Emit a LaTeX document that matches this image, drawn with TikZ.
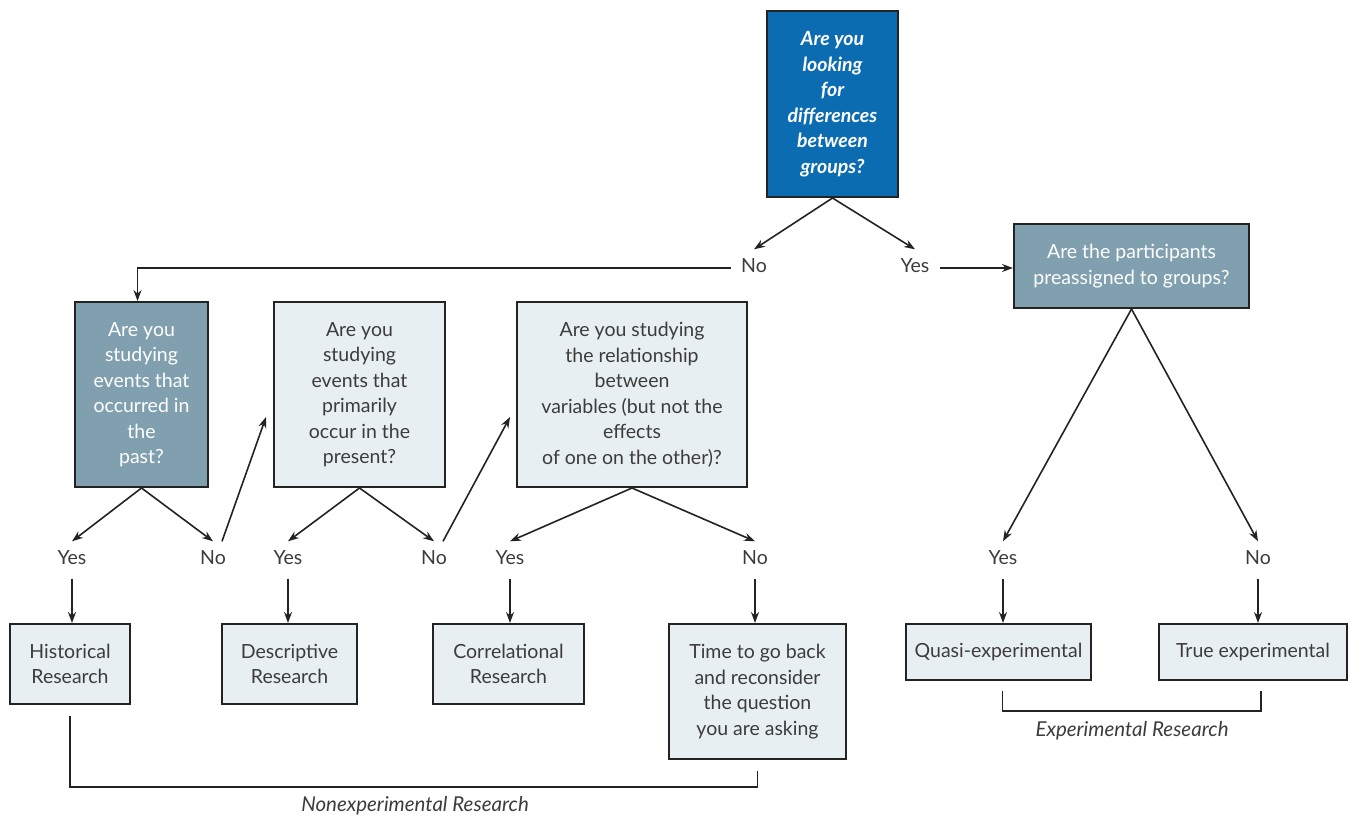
\documentclass[tikz,border=0pt]{standalone}
\usepackage{fontspec}
\setmainfont{Lato}
\definecolor{myblue}{RGB}{12, 108, 178}
\definecolor{mygray}{RGB}{128, 160, 176}
\definecolor{mylight}{RGB}{232, 239, 242}
\definecolor{mytext}{RGB}{60, 60, 60}
\definecolor{myline}{RGB}{35, 35, 35}
\usetikzlibrary{arrows.meta, positioning}

\tikzset{
	box/.style = {draw = myline, line width = 2pt, align = center, inner sep = 0pt, font = \fontsize{19.5}{25.5}\selectfont},
	darkbox/.style = {box, fill = mygray, text = white},
	lightbox/.style = {box, fill = mylight, text = mytext},
	answer/.style = {text = mytext, inner sep = 10pt, text height = 13pt, text depth = 4pt, font = \fontsize{19.5}{22}\selectfont},
	arrow/.style = {-{Stealth[length = 11pt, width = 8pt]}, line width = 1.6pt, color = myline},
	bracket/.style = {line width = 1.6pt, draw = myline},
	group/.style = {text = mytext, font = \fontsize{20.5}{24}\selectfont\itshape}
}

\begin{document}
\begin{tikzpicture}[x = 1pt, y = -1pt]
	\useasboundingbox (0, 0) rectangle (1359, 819);

	% questions
	\node[box, fill = myblue, text = white, font = \fontsize{19.5}{25.5}\selectfont\bfseries\itshape, minimum width = 131pt, minimum height = 186pt] (q0) at (832.5, 104) {Are you\\looking\\for\\differences\\between\\groups?};
	\node[darkbox, minimum width = 235pt, minimum height = 84pt] (q2) at (1131.5, 266) {Are the participants\\preassigned to groups?};
	\node[darkbox, minimum width = 133pt, minimum height = 185pt] (q1) at (141.5, 394.5) {Are you\\studying\\events that\\occurred in\\the\\past?};
	\node[lightbox, minimum width = 171pt, minimum height = 185pt] (q3) at (359.5, 394.5) {Are you\\studying\\events that\\primarily\\occur in the\\present?};
	\node[lightbox, minimum width = 230pt, minimum height = 185pt] (q4) at (632, 394.5) {Are you studying\\the relationship\\between\\variables (but not the\\effects\\of one on the other)?};

	% outcomes
	\node[lightbox, minimum width = 120pt, minimum height = 80pt] (hist) at (70, 664) {Historical\\Research};
	\node[lightbox, minimum width = 135pt, minimum height = 80pt] (desc) at (289.5, 664) {Descriptive\\Research};
	\node[lightbox, minimum width = 151pt, minimum height = 80pt] (corr) at (508.5, 664) {Correlational\\Research};
	\node[lightbox, minimum width = 177pt, minimum height = 135pt] (time) at (757.5, 691.5) {Time to go back\\and reconsider\\the question\\you are asking};
	\node[lightbox, minimum width = 185pt, minimum height = 56pt] (quasi) at (998.5, 652) {Quasi-experimental};
	\node[lightbox, minimum width = 188pt, minimum height = 56pt] (true) at (1253, 652) {True experimental};

	% answers
	\node[answer] (no0) at (754, 268) {No};
	\node[answer] (yes0) at (915, 268) {Yes};
	\node[answer] (yes1) at (72, 560) {Yes};
	\node[answer] (no1) at (213, 560) {No};
	\node[answer] (yes2) at (288, 560) {Yes};
	\node[answer] (no2) at (434, 560) {No};
	\node[answer] (yes3) at (510, 560) {Yes};
	\node[answer] (no3) at (755, 560) {No};
	\node[answer] (yes4) at (1003, 560) {Yes};
	\node[answer] (no4) at (1258, 560) {No};

	\coordinate (q3in) at (266, 417);
	\coordinate (q4in) at (510, 417);

	\path[arrow]
		(q0.south) edge (no0.north)
		(q0.south) edge (yes0.north)
		(yes0.east) edge (yes0.east -| q2.west)
		(q1.south) edge (yes1.north)
		(q1.south) edge (no1.north)
		([xshift = 9pt]no1.north) edge (q3in)
		(q3.south) edge (yes2.north)
		(q3.south) edge (no2.north)
		([xshift = 9pt]no2.north) edge (q4in)
		(q4.south) edge (yes3.north)
		(q4.south) edge (no3.north)
		(q2.south) edge (yes4.north)
		(q2.south) edge (no4.north)
		(yes1.south) edge (yes1.south |- hist.north)
		(yes2.south) edge (yes2.south |- desc.north)
		(yes3.south) edge (yes3.south |- corr.north)
		(no3.south) edge (no3.south |- time.north)
		(yes4.south) edge (yes4.south |- quasi.north)
		(no4.south) edge (no4.south |- true.north);
	\draw[arrow] (no0.west) -| ([xshift = -4pt]q1.north);

	% groups
	\draw[bracket] ([yshift = -11pt]hist.south) |- ([yshift = -27pt]time.south) -- ([yshift = -11pt]time.south);
	\draw[bracket] ([yshift = -10pt, xshift = 4pt]quasi.south) |- ([yshift = -30pt, xshift = 8pt]true.south) -- ([yshift = -10pt, xshift = 8pt]true.south);
	\node[group] (nonexp) at (415, 806) {Nonexperimental Research};
	\node[group] (exper) at (1132, 731) {Experimental Research};
\end{tikzpicture}
\end{document}
